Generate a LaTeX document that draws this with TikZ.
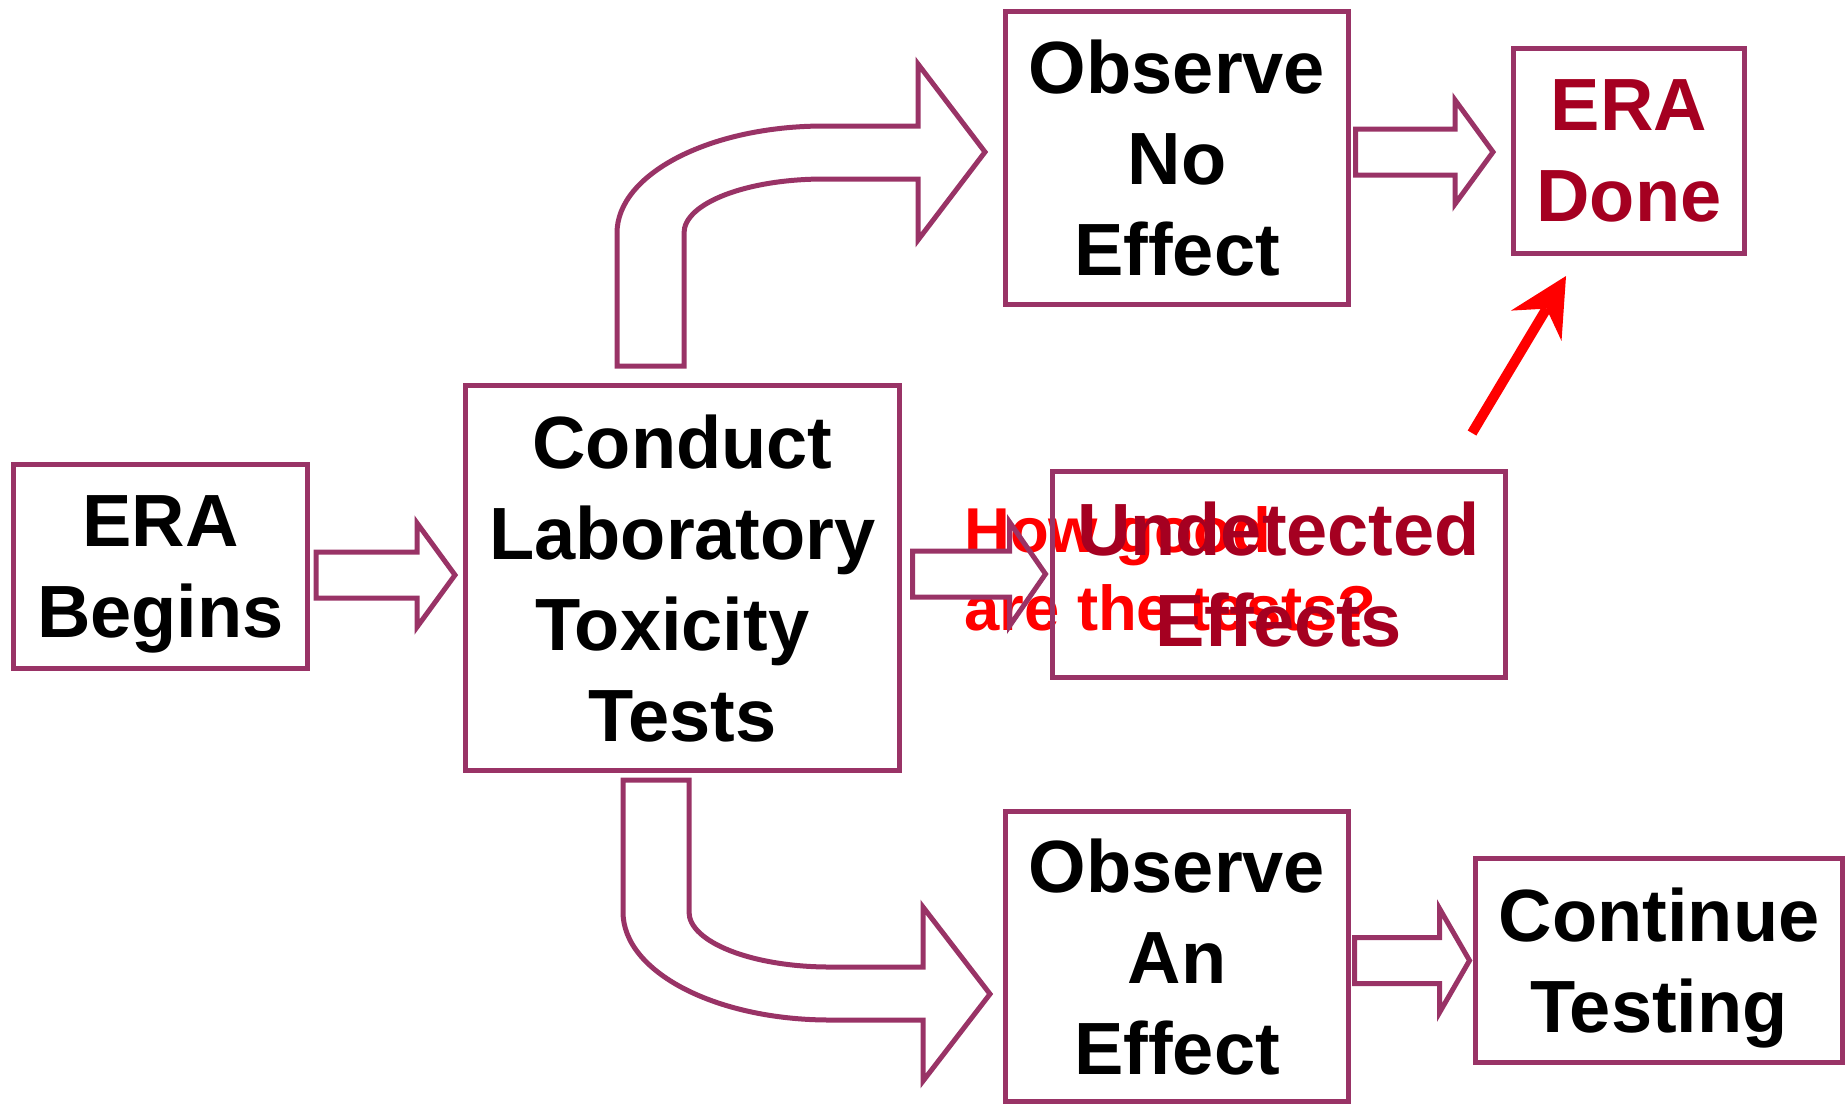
\documentclass[tikz,border=0pt]{standalone}
\usepackage{fontspec}
\setmainfont{Liberation Sans}
\usetikzlibrary{arrows.meta,calc,positioning}

\definecolor{eraline}{RGB}{153,51,102}
\definecolor{eradone}{RGB}{165,0,33}
\definecolor{eraask}{RGB}{255,0,0}

% hollow block arrow from #2 to the tip #3 (same height), #1 = head length
\newcommand{\blockarrow}[3][38]{%
  \draw[blockarrow] ($(#2)+(0,-23)$) -- ($(#3)+(-#1,-23)$) -- ($(#3)+(-#1,-52)$) -- (#3)
    -- ($(#3)+(-#1,52)$) -- ($(#3)+(-#1,23)$) -- ($(#2)+(0,23)$) -- cycle;}

\begin{document}
\begin{tikzpicture}[
    x=0.5pt, y=-0.5pt,
    stage/.style={draw=eraline, line width=2.5pt, inner sep=0pt, align=center, text depth=0pt, font=\bfseries\fontsize{37}{45.5}\selectfont},
    outcome/.style={stage, text=eradone},
    blockarrow/.style={draw=eraline, line width=2.5pt, line join=miter},
    question/.style={text=eraask, align=left, inner sep=0pt, font=\bfseries\fontsize{31.7}{39}\selectfont},
    pointer/.style={draw=eraask, line width=5pt, -{Stealth[length=29pt, width=29.5pt, inset=10pt, line width=0pt]}}
]
\useasboundingbox (0,0) rectangle (1845,1105);

\node[question, anchor=west] (ask) at (964,569) {How good\\are the tests?};

\node[stage, minimum width=147pt, minimum height=102pt] (begins) at (160.5,566.5) {ERA\\Begins};
\node[stage, minimum width=217pt, minimum height=192.5pt] (conduct) at (682.5,578) {Conduct\\Laboratory\\Toxicity\kern.28em\\Tests};
\node[stage, minimum width=171.5pt, minimum height=146.5pt] (noeffect) at (1177,158) {Observe\\No\\Effect};
\node[outcome, minimum width=115.5pt, minimum height=102.5pt] (done) at (1629,151) {ERA\\Done};
\node[outcome, minimum width=226.5pt, minimum height=103pt] (undetected) at (1278.5,574) {Undetected\\Effects};
\node[stage, minimum width=171.5pt, minimum height=145pt] (aneffect) at (1177,956.5) {Observe\\An\\Effect};
\node[stage, minimum width=183.5pt, minimum height=102pt] (testing) at (1659,960.5) {Continue\\Testing};

% straight block arrows
\path (conduct.west) ++(-8,-3) coordinate (a1to);
\path (begins.east |- a1to) ++(6,0) coordinate (a1from);
\blockarrow{a1from}{a1to}

\path (undetected.west) ++(-4,0) coordinate (a2to);
\path (conduct.east |- a2to) ++(10.5,0) coordinate (a2from);
\blockarrow[36]{a2from}{a2to}

\path (done.west) ++(-18,1) coordinate (a3to);
\path (noeffect.east |- a3to) ++(4.5,0) coordinate (a3from);
\blockarrow{a3from}{a3to}

\path (testing.west) ++(-3.5,0) coordinate (a4to);
\path (aneffect.east |- a4to) ++(3.5,0) coordinate (a4from);
\blockarrow[30]{a4from}{a4to}

% bent arrows out of the test box
\draw[blockarrow] (617,366) -- (617,233) .. controls (617,174) and (710,126) .. (824,126)
  -- (918,126) -- (918,64) -- (985,152) -- (918,240) -- (918,179) -- (824,179)
  .. controls (747,179) and (684,203) .. (684,233) -- (684,366) -- cycle;
\draw[blockarrow] (623,780) -- (689,780) -- (689,912) .. controls (689,942) and (752,967) .. (830,967)
  -- (923,967) -- (923,907) -- (990,994) -- (923,1081) -- (923,1020) -- (830,1020)
  .. controls (716,1020) and (623,972) .. (623,912) -- cycle;

% red pointer up to ERA Done
\coordinate (asktail) at (1472,433);
\coordinate (asktip) at ($(done.south)+(-63,20)$);
\draw[pointer] (asktail) -- (asktip);

\end{tikzpicture}
\end{document}
